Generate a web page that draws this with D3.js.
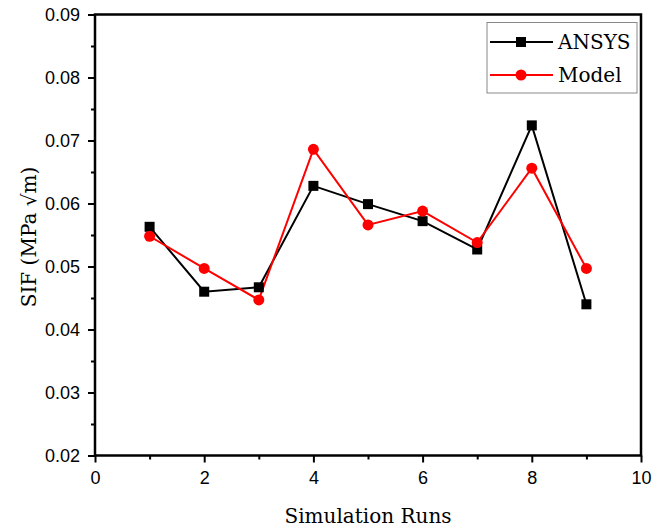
<!DOCTYPE html>
<html>
<head>
<meta charset="utf-8">
<script src="https://cdn.jsdelivr.net/npm/d3@7"></script>
<style>
  body { margin: 0; background: #fff; }
  .tick text { font-family: "Liberation Sans", Arial, sans-serif; font-size: 18px; fill: #000; }
  .ttl { font-family: "DejaVu Serif", serif; font-size: 20px; }
</style>
</head>
<body>
<svg id="chart" width="667" height="530"></svg>
<script>
// values
const runs = [1, 2, 3, 4, 5, 6, 7, 8, 9];
const ansys = [0.0563, 0.0460, 0.0467, 0.0628, 0.0599, 0.0572, 0.0527, 0.0724, 0.0440];
const model = [0.0548, 0.0497, 0.0447, 0.0686, 0.0566, 0.0588, 0.0538, 0.0656, 0.0497];
const xTicks = [0, 2, 4, 6, 8, 10];
const yTicks = [0.02, 0.03, 0.04, 0.05, 0.06, 0.07, 0.08, 0.09];

const svg = d3.select('#chart');
const mLeft = 95, mRight = 641, mTop = 14.5, mBottom = 455.5;

const x = d3.scaleLinear().domain([0, 10]).range([mLeft, mRight]);
const y = d3.scaleLinear().domain([0.02, 0.09]).range([mBottom, mTop]);

// minor ticks
svg.append('g')
  .attr('transform', `translate(0,${mBottom})`)
  .call(d3.axisBottom(x).tickValues(d3.range(1, 10, 2)).tickSize(4).tickFormat(''))
  .call(g => g.select('.domain').remove())
  .selectAll('line').attr('stroke-width', 2);
svg.append('g')
  .attr('transform', `translate(${mLeft},0)`)
  .call(d3.axisLeft(y).tickValues(d3.range(0.025, 0.09, 0.01)).tickSize(4).tickFormat(''))
  .call(g => g.select('.domain').remove())
  .selectAll('line').attr('stroke-width', 2);

// major ticks
const xAxis = svg.append('g')
  .attr('transform', `translate(0,${mBottom})`)
  .call(d3.axisBottom(x).tickValues(xTicks).tickSize(7).tickPadding(9).tickFormat(d3.format('d')));
xAxis.select('.domain').remove();
xAxis.selectAll('line').attr('stroke-width', 2);

const yAxis = svg.append('g')
  .attr('transform', `translate(${mLeft},0)`)
  .call(d3.axisLeft(y).tickValues(yTicks).tickSize(7).tickPadding(8).tickFormat(d3.format('.2f')));
yAxis.select('.domain').remove();
yAxis.selectAll('line').attr('stroke-width', 2);

// frame
svg.append('rect')
  .attr('x', mLeft).attr('y', mTop)
  .attr('width', mRight - mLeft).attr('height', mBottom - mTop)
  .attr('fill', 'none').attr('stroke', '#000').attr('stroke-width', 2.5);

const line = d3.line().x((d, i) => x(runs[i])).y(d => y(d));

svg.append('path').datum(ansys)
  .attr('d', line).attr('fill', 'none').attr('stroke', '#000').attr('stroke-width', 2);
svg.append('path').datum(model)
  .attr('d', line).attr('fill', 'none').attr('stroke', '#ff0000').attr('stroke-width', 2);

svg.selectAll('rect.sq').data(ansys).enter().append('rect')
  .attr('class', 'sq')
  .attr('x', (d, i) => x(runs[i]) - 5).attr('y', d => y(d) - 5)
  .attr('width', 10).attr('height', 10).attr('fill', '#000');
svg.selectAll('circle.dot').data(model).enter().append('circle')
  .attr('class', 'dot')
  .attr('cx', (d, i) => x(runs[i])).attr('cy', d => y(d))
  .attr('r', 5.5).attr('fill', '#ff0000');

// legend
const lg = svg.append('g');
lg.append('rect').attr('x', 487).attr('y', 22.5).attr('width', 150).attr('height', 70.5)
  .attr('fill', '#fff').attr('stroke', '#888').attr('stroke-width', 1);
const items = [
  { name: 'ANSYS', color: '#000', sym: 'sq', yy: 42 },
  { name: 'Model', color: '#ff0000', sym: 'dot', yy: 75 }
];
items.forEach(it => {
  lg.append('line').attr('x1', 490).attr('x2', 553).attr('y1', it.yy).attr('y2', it.yy)
    .attr('stroke', it.color).attr('stroke-width', 2);
  if (it.sym === 'sq') {
    lg.append('rect').attr('x', 516).attr('y', it.yy - 5).attr('width', 10).attr('height', 10).attr('fill', it.color);
  } else {
    lg.append('circle').attr('cx', 521).attr('cy', it.yy).attr('r', 5.5).attr('fill', it.color);
  }
  lg.append('text').attr('class', 'ttl').attr('x', 558).attr('y', it.yy + 7)
    .text(it.name);
});

// axis titles
svg.append('text').attr('class', 'ttl')
  .attr('x', (mLeft + mRight) / 2).attr('y', 523)
  .attr('text-anchor', 'middle')
  .text('Simulation Runs');

svg.append('text').attr('class', 'ttl')
  .attr('transform', `translate(36,237) rotate(-90)`)
  .attr('text-anchor', 'middle')
  .text('SIF (MPa √m)');
</script>
</body>
</html>
